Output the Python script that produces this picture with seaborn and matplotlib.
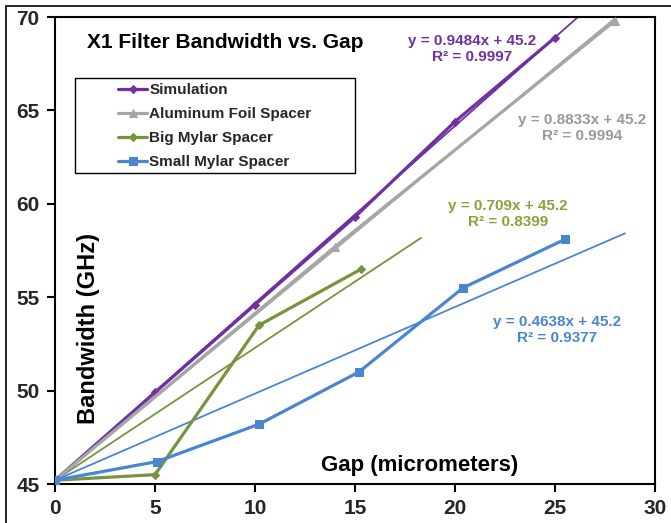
import pandas as pd
import numpy as np
import matplotlib
matplotlib.use("Agg")
import matplotlib.pyplot as plt
import seaborn as sns
from matplotlib.patches import Rectangle
from matplotlib.lines import Line2D

sim_gap = [0, 5, 10, 15, 20, 25]
sim_bw = [45.2, 49.9, 54.6, 59.3, 64.4, 68.9]

alu_gap = [0, 14, 28]
alu_bw = [45.2, 57.7, 69.8]

big_gap = [0, 5.0, 10.2, 15.3]
big_bw = [45.2, 45.5, 53.5, 56.5]

small_gap = [0, 5.1, 10.2, 15.2, 20.4, 25.5]
small_bw = [45.2, 46.2, 48.2, 51.0, 55.5, 58.1]

series_names = ["Simulation", "Aluminum Foil Spacer", "Big Mylar Spacer", "Small Mylar Spacer"]
# trendline equations printed on the chart
slopes = [0.9484, 0.8833, 0.709, 0.4638]
intercepts = [45.2, 45.2, 45.2, 45.2]
r2 = [0.9997, 0.9994, 0.8399, 0.9377]
trend_end = [27.0, 28.0, 18.3, 28.5]

colors = ["#7030A0", "#A6A6A6", "#77933C", "#4A86D0"]
text_colors = ["#7030A0", "#999999", "#8AA23A", "#4A86D0"]
markers = ["D", "^", "D", "s"]
msizes = [4, 6, 4, 6]

frames = []
for name, g, b in zip(series_names,
                      [sim_gap, alu_gap, big_gap, small_gap],
                      [sim_bw, alu_bw, big_bw, small_bw]):
    frames.append(pd.DataFrame({"gap": g, "bw": b, "series": name}))
df = pd.concat(frames, ignore_index=True)

sns.set_theme(style="white")
plt.rcParams["font.family"] = ["Liberation Sans", "DejaVu Sans"]
plt.rcParams["font.weight"] = "bold"

fig = plt.figure(figsize=(6.71, 5.23), dpi=100)
ax = fig.add_axes([55 / 671, 1 - 484 / 523, 600 / 671, 467 / 523])

# thin trendlines first
for i in range(4):
    xs = np.array([0, trend_end[i]])
    ax.plot(xs, slopes[i] * xs + intercepts[i], color=colors[i], lw=1.3, zorder=2)

for i, name in enumerate(series_names):
    sub = df[df["series"] == name]
    sns.lineplot(data=sub, x="gap", y="bw", ax=ax, color=colors[i], lw=2.3,
                 marker=markers[i], markersize=msizes[i], markeredgecolor=colors[i],
                 label=name, zorder=3, estimator=None, sort=False)

ax.set_xlim(0, 30)
ax.set_ylim(45, 70)
ax.set_xticks(range(0, 31, 5))
ax.set_yticks(range(45, 71, 5))
ax.tick_params(axis="both", which="major", labelsize=15, length=6, width=1.5,
               direction="out", color="black", bottom=True, left=True, pad=5)
for lab in ax.get_xticklabels() + ax.get_yticklabels():
    lab.set_fontweight("bold")
for sp in ax.spines.values():
    sp.set_color("black")
    sp.set_linewidth(1.5)
ax.set_xlabel("")
ax.set_ylabel("")

ax.text(0.283, 0.946, "X1 Filter Bandwidth vs. Gap", transform=ax.transAxes,
        ha="center", va="center", fontsize=15, fontweight="bold", color="black")
ax.text(18.25, 46.0, "Gap (micrometers)", ha="center", va="center",
        fontsize=16, fontweight="bold", color="black")
ax.text(1.65, 53.35, "Bandwidth (GHz)", ha="center", va="center", rotation=90,
        fontsize=17, fontweight="bold", color="black")

eq_x = [20.85, 26.35, 22.65, 25.1]
eq_y = [68.3, 64.06, 59.45, 53.24]
for i in range(4):
    ax.text(eq_x[i], eq_y[i],
            f"y = {slopes[i]}x + {intercepts[i]}\nR\u00b2 = {r2[i]}",
            ha="center", va="center", fontsize=11, fontweight="bold",
            color=text_colors[i], linespacing=1.15)

# legend box (Excel style, wider than its content)
ax.add_patch(Rectangle((20 / 600, 311 / 467), 280 / 600, 95 / 467,
                       transform=ax.transAxes, fill=True, facecolor="white",
                       edgecolor="black", lw=1.0, zorder=4))
leg = ax.legend(loc="upper left", bbox_to_anchor=(63 / 600, 401 / 467),
                frameon=False, fontsize=11, handlelength=1.9, handletextpad=0.15,
                labelspacing=0.66, borderpad=0, borderaxespad=0)
leg.set_zorder(5)
for t in leg.get_texts():
    t.set_fontweight("bold")

# outer picture frame
fig.add_artist(Line2D([6 / 671, 1], [1 - 6 / 523, 1 - 6 / 523], color="black", lw=1.2))
fig.add_artist(Line2D([6 / 671, 6 / 671], [0, 1 - 6 / 523], color="black", lw=1.2))

fig.savefig("out.png", dpi=100)
